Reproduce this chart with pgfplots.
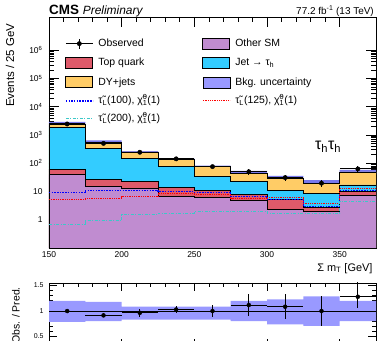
\documentclass[border=0pt]{standalone}
\usepackage{fontspec}
\setmainfont{Liberation Sans}
\usepackage{pgfplots}
\pgfplotsset{compat=1.18}
\definecolor{othersm}{RGB}{192,140,208}
\definecolor{topq}{RGB}{222,90,106}
\definecolor{dyj}{RGB}{255,204,102}
\definecolor{jettau}{RGB}{51,204,255}
\definecolor{bkgunc}{RGB}{153,153,255}
\definecolor{bandmain}{RGB}{120,120,235}
\definecolor{sigcyan}{RGB}{60,200,200}
\pgfplotsset{
  boxleg/.style={legend image code/.code={\draw[##1] (0bp,-5.5bp) rectangle (27bp,5.5bp);}},
  fillleg/.style={legend image code/.code={\fill[##1] (0bp,-5.5bp) rectangle (27bp,5.5bp);}},
  lineleg/.style={legend image code/.code={\draw[##1] (0bp,0bp)--(27bp,0bp);}},
  obsleg/.style={legend image code/.code={\draw[black,line width=1bp] (0bp,0bp)--(27bp,0bp); \draw[black,line width=1bp] (13.5bp,-5bp)--(13.5bp,5bp); \fill[black] (13.5bp,0bp) circle (2.2bp);}},
}
\newcommand{\stau}{\~{τ}\textsubscript{L}}
\newcommand{\chiz}{\~{χ}\rlap{\textsuperscript{0}}\textsubscript{1}}
\newcommand{\lbox}[1]{\makebox[104bp][l]{#1}}
\begin{document}
\begin{tikzpicture}
\begin{axis}[
  at={(49bp,93bp)}, anchor=south west,
  scale only axis, width=327bp, height=231bp,
  xmin=150, xmax=375, ymode=log, ymin=0.1, ymax=1.5e7,
  clip mode=individual,
  axis line style={line width=0.8bp},
  tick align=inside, xtick pos=both, ytick pos=both,
  xticklabel pos=lower, yticklabel pos=left,
  xtick={150,200,250,300,350}, xticklabels={150,200,250,300,350},
  minor x tick num=4,
  ytick={0.1,1,10,100,1000,10000,100000,1000000},
  yticklabels={,1,10,10\textsuperscript{2},10\textsuperscript{3},10\textsuperscript{4},10\textsuperscript{5},10\textsuperscript{6}},
  major tick length=10bp, minor tick length=5bp,
  every tick/.style={black, line width=0.7bp},
  tick label style={font=\fontsize{8.5}{10}\selectfont},
  yticklabel style={xshift=-3bp},
  xlabel={Σ m\textsubscript{T} [GeV]},
  xlabel style={at={(axis description cs:1,0)}, anchor=base east, yshift=-23bp, font=\fontsize{11}{13}\selectfont},
  ylabel={Events / 25 GeV},
  ylabel style={at={(axis description cs:-0.119,0.987)}, anchor=east, font=\fontsize{11.5}{13}\selectfont},
  legend columns=2,
  legend cell align=left,
  legend style={at={(axis description cs:0.049,0.911)}, anchor=north west, draw=none, fill=none,
    inner sep=0pt, font=\fontsize{10.5}{12}\selectfont, row sep=7.5bp,
    nodes={inner sep=0pt, text height=8bp, text depth=2.5bp},
    /tikz/every odd column/.append style={column sep=5bp}},
]
% legend
\addlegendimage{obsleg}
\addlegendentry{\lbox{Observed}}
\addlegendimage{fill=othersm, draw=black, line width=0.8bp, boxleg}
\addlegendentry{Other SM}
\addlegendimage{fill=topq, draw=black, line width=0.8bp, boxleg}
\addlegendentry{\lbox{Top quark}}
\addlegendimage{fill=jettau, draw=black, line width=0.8bp, boxleg}
\addlegendentry{Jet → τ\textsubscript{h}}
\addlegendimage{fill=dyj, draw=black, line width=0.8bp, boxleg}
\addlegendentry{\lbox{DY+jets}}
\addlegendimage{fill=bkgunc, fillleg}
\addlegendentry{Bkg. uncertainty}
\addlegendimage{blue, line width=1.2bp, dash pattern=on 1.5bp off 1.2bp, lineleg}
\addlegendentry{\lbox{\stau(100), \chiz(1)}}
\addlegendimage{red, line width=0.9bp, dash pattern=on 0.9bp off 0.9bp, lineleg}
\addlegendentry{\stau(125), \chiz(1)}
\addlegendimage{sigcyan, line width=1bp, dash pattern=on 3bp off 1.5bp on 1bp off 1.5bp, lineleg}
\addlegendentry{\lbox{\stau(200), \chiz(1)}}
% uncertainty band (upper edge left to right, lower edge right to left)
\addplot[fill=bandmain, draw=none, forget plot] coordinates {(150,2940)(175,2940)(175,649)(200,649)(200,271)(225,271)(225,150)(250,150)(250,82.5)(275,82.5)(275,54)(300,54)(300,35.7)(325,35.7)(325,25.2)(350,25.2)(350,58.8)(375,58.8)(375,39.2)(350,39.2)(350,13.8)(325,13.8)(325,21.5)(300,21.5)(300,36)(275,36)(275,63)(250,63)(250,114.5)(225,114.5)(225,207.5)(200,207.5)(200,440)(175,440)(175,1936)(150,1936)} --cycle;
% stack (cumulative)
\addplot[const plot mark left, fill=dyj, draw=black, line width=0.9bp, forget plot] coordinates {(150,2450)(175,550)(200,250)(225,138)(250,76)(275,45)(300,29)(325,19.5)(350,49)(375,49)(375,0.1)(150,0.1)} --cycle;
\addplot[const plot mark left, fill=jettau, draw=black, line width=0.9bp, forget plot] coordinates {(150,1900)(175,340)(200,152)(225,76)(250,34)(275,22.6)(300,10.8)(325,8.8)(350,17)(375,17)(375,0.1)(150,0.1)} --cycle;
\addplot[const plot mark left, fill=topq, draw=black, line width=0.9bp, forget plot] coordinates {(150,62)(175,26)(200,22.6)(225,14.3)(250,10.8)(275,7.6)(300,5.1)(325,2.7)(350,10)(375,10)(375,0.1)(150,0.1)} --cycle;
\addplot[const plot mark left, fill=othersm, draw=black, line width=0.9bp, forget plot] coordinates {(150,39)(175,15)(200,13)(225,6.7)(250,6.2)(275,4.7)(300,2.4)(325,1.9)(350,7.2)(375,7.2)(375,0.1)(150,0.1)} --cycle;
% signals
\addplot[const plot mark left, blue, line width=1.2bp, dash pattern=on 1.5bp off 1.2bp, forget plot] coordinates {(150,9.2)(175,10.8)(200,10.8)(225,10)(250,9.5)(275,6.6)(300,5.1)(325,3.0)(350,10.6)(375,10.6)};
\addplot[const plot mark left, red, line width=0.9bp, dash pattern=on 0.9bp off 0.9bp, forget plot] coordinates {(150,5.1)(175,5.8)(200,6.6)(225,8.8)(250,8.1)(275,5.8)(300,6.1)(325,3.9)(350,13)(375,13)};
\addplot[const plot mark left, sigcyan, line width=1bp, dash pattern=on 3bp off 1.5bp on 1bp off 1.5bp, forget plot] coordinates {(150,0.7)(175,0.92)(200,1.5)(225,1.7)(250,1.9)(275,2.0)(300,1.7)(325,1.7)(350,4.5)(375,4.5)};
% data
\addplot[only marks, mark=*, mark size=2.2bp, black, forget plot,
  error bars/.cd, x dir=both, x explicit, y dir=both, y explicit,
  error bar style={line width=1bp, black}, error mark=none]
  coordinates {(162.5,2450) +- (12.5,49) (187.5,505) +- (12.5,20) (212.5,245) +- (12.5,20) (237.5,143) +- (12.5,10) (262.5,76) +- (12.5,9) (287.5,50) +- (12.5,10.5) (312.5,31) +- (12.5,7.5) (337.5,19.7) +- (12.5,5.7) (362.5,63) += (12.5,19) -= (12.5,14)};
\node[anchor=base west, inner sep=0pt, font=\fontsize{13.5}{15}\selectfont\bfseries] at (rel axis cs:0,1) [yshift=2.5bp] {CMS \fontsize{12}{14}\selectfont\mdseries\itshape Preliminary};
\node[anchor=base east, inner sep=0pt, font=\fontsize{10}{12}\selectfont] at (rel axis cs:1,1) [xshift=-2bp, yshift=2.5bp] {77.2 fb\textsuperscript{-1} (13 TeV)};
\node[font=\fontsize{16}{18}\selectfont] at (axis cs:342,380) {τ\textsubscript{h}τ\textsubscript{h}};
\end{axis}
\begin{axis}[
  at={(49bp,-5.75bp)}, anchor=south west,
  scale only axis, width=327bp, height=63.75bp,
  xmin=150, xmax=375, ymin=0.3, ymax=1.55,
  clip mode=individual,
  axis line style={line width=0.8bp},
  tick align=inside, xtick pos=both, ytick pos=both,
  xticklabel pos=lower, yticklabel pos=left,
  xtick={150,200,250,300,350}, xticklabels={,,,,},
  minor x tick num=4,
  ytick={0.5,1,1.5}, yticklabels={0.5,1,1.5}, minor y tick num=4,
  major tick length=8bp, minor tick length=4bp,
  every tick/.style={black, line width=0.7bp},
  tick label style={font=\fontsize{7}{8}\selectfont},
  yticklabel style={xshift=-2bp},
  ylabel={Obs. / Pred.},
  ylabel style={at={(axis description cs:-0.101,0.99)}, anchor=east, font=\fontsize{10.5}{12}\selectfont},
]
\addplot[fill=bkgunc, draw=none, forget plot] coordinates {(150,1.2)(175,1.2)(175,1.18)(200,1.18)(200,1.085)(225,1.085)(225,1.085)(250,1.085)(250,1.085)(275,1.085)(275,1.2)(300,1.2)(300,1.23)(325,1.23)(325,1.29)(350,1.29)(350,1.2)(375,1.2)(375,0.80)(350,0.80)(350,0.71)(325,0.71)(325,0.74)(300,0.74)(300,0.80)(275,0.80)(275,0.83)(250,0.83)(250,0.83)(225,0.83)(225,0.83)(200,0.83)(200,0.80)(175,0.80)(175,0.79)(150,0.79)} --cycle;
\addplot[black, line width=0.9bp, forget plot] coordinates {(150,1)(375,1)};
\addplot[only marks, mark=*, mark size=2bp, black, forget plot,
  error bars/.cd, x dir=both, x explicit, y dir=both, y explicit,
  error bar style={line width=0.9bp, black}, error mark=none]
  coordinates {(162.5,1.0) +- (12.5,0.02) (187.5,0.915) +- (12.5,0.04) (212.5,0.965) +- (12.5,0.08) (237.5,1.03) +- (12.5,0.07) (262.5,1.0) +- (12.5,0.12) (287.5,1.118) +- (12.5,0.21) (312.5,1.085) +- (12.5,0.24) (337.5,1.0) +- (12.5,0.29) (362.5,1.28) += (12.5,0.3) -= (12.5,0.22)};
\end{axis}
\pgfresetboundingbox
\useasboundingbox (0,0) rectangle (378bp,341bp);
\end{tikzpicture}
\end{document}
